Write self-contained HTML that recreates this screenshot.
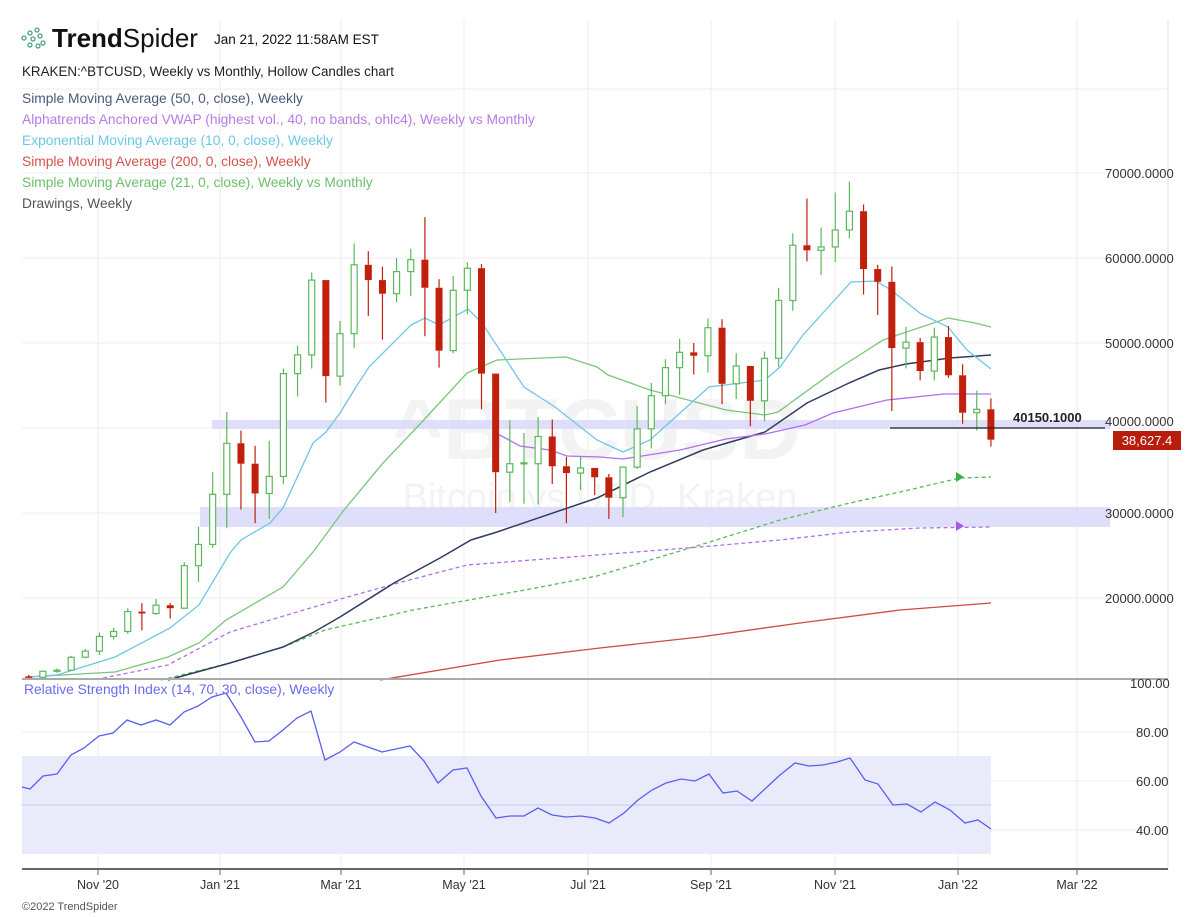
<!DOCTYPE html>
<html><head><meta charset="utf-8"><style>
body{margin:0;background:#fff;width:1200px;height:917px;overflow:hidden;font-family:"Liberation Sans",sans-serif}
svg{position:absolute;left:0;top:0}
</style></head><body>
<svg id="s" width="1200" height="917" xmlns="http://www.w3.org/2000/svg" font-family="Liberation Sans, sans-serif">
<g stroke="#eeeeee" stroke-width="1" id="grid">
<line x1="98" y1="20" x2="98" y2="869"/><line x1="220" y1="20" x2="220" y2="869"/><line x1="341" y1="20" x2="341" y2="869"/><line x1="464" y1="20" x2="464" y2="869"/><line x1="588" y1="20" x2="588" y2="869"/><line x1="711" y1="20" x2="711" y2="869"/><line x1="835" y1="20" x2="835" y2="869"/><line x1="958" y1="20" x2="958" y2="869"/><line x1="1077" y1="20" x2="1077" y2="869"/>
<line x1="22" y1="89" x2="1168" y2="89"/><line x1="22" y1="173" x2="1168" y2="173"/><line x1="22" y1="258" x2="1168" y2="258"/><line x1="22" y1="343" x2="1168" y2="343"/><line x1="22" y1="428" x2="1168" y2="428"/><line x1="22" y1="513" x2="1168" y2="513"/><line x1="22" y1="598" x2="1168" y2="598"/>
<line x1="22" y1="732" x2="1168" y2="732"/><line x1="22" y1="781" x2="1168" y2="781"/><line x1="22" y1="830" x2="1168" y2="830"/>
</g>
<line x1="1168" y1="20" x2="1168" y2="869" stroke="#e4e4e4"/>
<text x="597" y="459" font-size="86" font-weight="bold" fill="#f3f3f3" text-anchor="middle">^BTCUSD</text>
<text x="600" y="510" font-size="38" fill="#f3f3f3" text-anchor="middle">Bitcoin vs USD, Kraken</text>
<rect x="212" y="420" width="898" height="9" fill="#dcdcfb" opacity="0.9"/>
<rect x="200" y="507" width="910" height="20" fill="#dcdcfb" opacity="0.9"/>
<rect x="22" y="756" width="969" height="98" fill="#e9ebfb"/>
<line x1="22" y1="805" x2="991" y2="805" stroke="#c9c9ef"/>
<g id="lines" fill="none" stroke-width="1.3"></g>
<g id="candles"></g>
<line x1="890" y1="428" x2="1105" y2="428" stroke="#222" stroke-width="1.2"/>
<text x="1013" y="422" font-size="13" font-weight="bold" fill="#222">40150.1000</text>
<rect x="1113" y="431" width="68" height="19" fill="#b81c0b"/>
<text x="1147" y="445" font-size="13" fill="#fff" text-anchor="middle">38,627.4</text>
<polygon points="956,472 964,477 956,482" fill="#3bae4a"/>
<polygon points="956,521 964,526 956,531" fill="#a25be0"/>
<line x1="22" y1="679" x2="1168" y2="679" stroke="#aaa" stroke-width="2"/>
<line x1="22" y1="869" x2="1168" y2="869" stroke="#666" stroke-width="2"/>
<g stroke="#666"><line x1="98" y1="869" x2="98" y2="875"/><line x1="220" y1="869" x2="220" y2="875"/><line x1="341" y1="869" x2="341" y2="875"/><line x1="464" y1="869" x2="464" y2="875"/><line x1="588" y1="869" x2="588" y2="875"/><line x1="711" y1="869" x2="711" y2="875"/><line x1="835" y1="869" x2="835" y2="875"/><line x1="958" y1="869" x2="958" y2="875"/><line x1="1077" y1="869" x2="1077" y2="875"/></g>
<g font-size="12.5" fill="#333" text-anchor="middle"><text x="98" y="889">Nov '20</text><text x="220" y="889">Jan '21</text><text x="341" y="889">Mar '21</text><text x="464" y="889">May '21</text><text x="588" y="889">Jul '21</text><text x="711" y="889">Sep '21</text><text x="835" y="889">Nov '21</text><text x="958" y="889">Jan '22</text><text x="1077" y="889">Mar '22</text></g>
<g font-size="13" fill="#333"><text x="1105" y="178">70000.0000</text><text x="1105" y="263">60000.0000</text><text x="1105" y="348">50000.0000</text><text x="1105" y="426">40000.0000</text><text x="1105" y="518">30000.0000</text><text x="1105" y="603">20000.0000</text>
<text x="1130" y="688">100.00</text><text x="1136" y="737">80.00</text><text x="1136" y="786">60.00</text><text x="1136" y="835">40.00</text></g>
<text x="22" y="910" font-size="11" fill="#555">©2022 TrendSpider</text>
<g fill="none" stroke="#4aa08a" stroke-width="1.3"><circle cx="24" cy="38" r="2"/><circle cx="30" cy="33" r="2"/><circle cx="33" cy="39" r="2"/><circle cx="30" cy="45" r="2"/><circle cx="37" cy="30" r="2"/><circle cx="40" cy="36" r="2"/><circle cx="38" cy="46" r="2"/><circle cx="43" cy="43" r="2"/></g>
<text x="52" y="47" font-size="26" fill="#111"><tspan font-weight="bold">Trend</tspan>Spider</text>
<text x="214" y="44" font-size="13.5" fill="#111">Jan 21, 2022 11:58AM EST</text>
<text x="22" y="76" font-size="13.4" fill="#222">KRAKEN:^BTCUSD, Weekly vs Monthly, Hollow Candles chart</text>
<g font-size="13.8"><text x="22" y="103" fill="#4a5a7a">Simple Moving Average (50, 0, close), Weekly</text>
<text x="22" y="124" fill="#b77be6">Alphatrends Anchored VWAP (highest vol., 40, no bands, ohlc4), Weekly vs Monthly</text>
<text x="22" y="145" fill="#6cc8e4">Exponential Moving Average (10, 0, close), Weekly</text>
<text x="22" y="166" fill="#d5524a">Simple Moving Average (200, 0, close), Weekly</text>
<text x="22" y="187" fill="#6cbf6c">Simple Moving Average (21, 0, close), Weekly vs Monthly</text>
<text x="22" y="208" fill="#555">Drawings, Weekly</text>
<text x="24" y="694" fill="#6a6af0">Relative Strength Index (14, 70, 30, close), Weekly</text></g>
</svg>
<script>
var NS="http://www.w3.org/2000/svg";
function el(p,t,a){var e=document.createElementNS(NS,t);for(var k in a)e.setAttribute(k,a[k]);p.appendChild(e);return e;}
var Y=function(p){return 768-0.0085*p;};
var d=[[10780,10950,10380,10670],[10670,11490,10540,11380],[11380,11720,11200,11500],[11500,13200,11400,13030],[13030,14000,12900,13750],[13750,15950,13300,15480],[15480,16500,15100,16060],[16060,18800,15800,18400],[18400,19400,16200,18180],[18180,19900,18000,19150],[19150,19400,17600,18800],[18800,24200,18800,23800],[23800,28400,21900,26300],[26300,34800,25900,32200],[32200,41900,28200,38200],[38200,39700,30400,35800],[35800,37900,28800,32300],[32300,38500,29300,34300],[34300,47000,33400,46400],[46400,49700,43700,48600],[48600,58300,47000,57400],[57400,57400,43000,46100],[46100,52600,45000,51100],[51100,61700,49400,59200],[59200,60800,53200,57400],[57400,59000,50400,55800],[55800,60000,54800,58400],[58400,61100,55500,59800],[59800,64800,50800,56500],[56500,57500,47100,49100],[49100,57900,48800,56200],[56200,59500,53400,58800],[58800,59300,42200,46400],[46400,46400,30000,34800],[34800,40900,31300,35800],[35800,39400,31100,35900],[35800,41300,31000,39000],[39000,41000,33400,35500],[35500,36600,28800,34700],[34700,36600,32700,35300],[35300,35300,32100,34200],[34200,34600,29300,31800],[31800,35400,29500,35400],[35400,42600,35200,39900],[39900,45300,37600,43800],[43800,48100,42800,47100],[47100,50500,43900,48900],[48900,50000,46300,48500],[48500,52900,46500,51800],[51800,52800,42800,45200],[45200,48800,43400,47300],[47300,47300,40200,43200],[43200,49000,40800,48200],[48200,56500,47200,55000],[55000,62900,53800,61500],[61500,67000,59600,60900],[60900,63600,58000,61300],[61300,67700,59500,63300],[63300,69000,62300,65500],[65500,66300,55700,58700],[58700,59200,53300,57200],[57200,59000,42000,49400],[49400,51900,47000,50100],[50100,50600,45600,46700],[46700,51800,45600,50700],[50700,52000,45900,46200],[46200,47500,40500,41800],[41800,44400,39700,42200],[42200,43500,37800,38627]];
var g=document.getElementById('candles');
d.forEach(function(c,i){var x=28.7+14.15*i;var up=c[3]>=c[0];var col=up?'#5cb85c':'#c0200c';
var t=Y(Math.max(c[0],c[3])),b=Y(Math.min(c[0],c[3]));
el(g,'line',{x1:x,y1:Y(c[1]),x2:x,y2:t,stroke:col,'stroke-width':1.2});
el(g,'line',{x1:x,y1:b,x2:x,y2:Y(c[2]),stroke:col,'stroke-width':1.2});
if(up)el(g,'rect',{x:x-3,y:t,width:6,height:Math.max(b-t,1),fill:'#fff',stroke:col,'stroke-width':1.2});
else el(g,'rect',{x:x-3.5,y:t,width:7,height:Math.max(b-t,1.5),fill:col});});
var L=document.getElementById('lines');
function pl(pts,col,dash,w){var a={points:pts,stroke:col,'stroke-width':w||1.3,fill:'none'};if(dash)a['stroke-dasharray']=dash;el(L,'polyline',a);}
pl("380,680 500,660 600,648 700,637 800,623 900,610 991,603","#d04a40");
pl("103,678 168,665 230,632 344,598 398,583 467,565 597,555 700,547 780,540 850,532 920,528 991,527","#b070ea","4,3");
pl("161,680 230,663 283,647 325,630 413,610 536,588 597,576 700,545 780,520 850,503 900,492 960,478 991,477","#5cb85c","4,3");
pl("168,680 230,663 283,647 314,632 340,617 394,583 440,558 471,540 497,532 597,498 650,472 703,450 765,432 807,403 849,383 879,370 906,364 950,358 991,355","#2f3d5e",null,1.5);
pl("496,433 520,446 550,450 567,456 600,457 623,459 680,450 726,439 765,434 805,425 833,413 887,400 944,394 991,394","#b070ea");
pl("28,677 115,672 168,657 199,643 226,620 283,587 313,552 344,510 383,463 421,423 467,373 497,360 566,357 597,367 608,375 650,390 726,410 765,415 778,412 833,372 883,340 948,318 975,323 991,327","#7cc47c");
pl("28,677 57,675 115,657 170,628 199,605 230,553 241,540 270,523 283,508 313,443 326,432 340,413 356,387 369,367 411,325 425,318 439,325 468,309 482,323 524,387 555,407 597,440 623,452 650,440 709,387 765,380 780,367 803,335 851,282 876,281 891,290 921,314 948,327 967,350 991,369","#6fc6e2");
pl("22,787 30,789 43,776 57,774 71,755 84,748 99,736 113,733 127,720 141,725 156,720 170,725 184,712 198,706 212,697 226,693 241,717 255,742 269,741 283,730 297,718 311,711 325,760 340,752 354,742 368,747 382,752 396,749 410,746 424,761 438,783 453,770 467,768 481,796 496,818 510,816 524,816 538,808 552,815 566,817 581,816 595,818 609,823 624,813 638,800 652,790 666,783 681,779 695,781 709,774 723,793 737,791 752,801 766,788 780,775 795,763 809,766 823,765 837,762 850,758 865,780 878,784 893,805 907,804 921,812 935,802 950,810 965,823 978,820 991,829","#5a5ef0");
</script>
</body></html>
